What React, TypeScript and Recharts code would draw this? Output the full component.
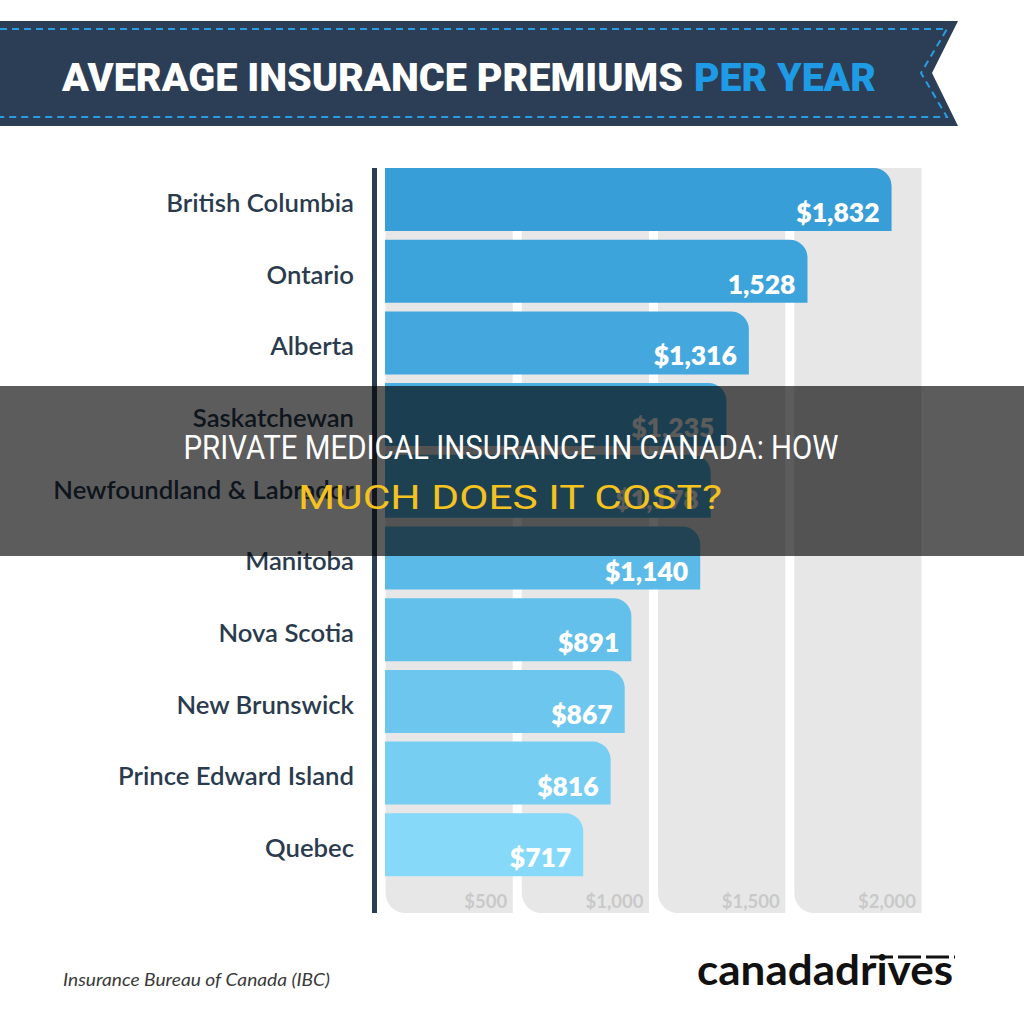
import React from 'react';
import { BarChart, Bar, XAxis, YAxis, Cell, LabelList, ReferenceArea } from 'recharts';

const provinces = [
  'British Columbia',
  'Ontario',
  'Alberta',
  'Saskatchewan',
  'Newfoundland & Labrador',
  'Manitoba',
  'Nova Scotia',
  'New Brunswick',
  'Prince Edward Island',
  'Quebec',
];
const premiums = [1832, 1528, 1316, 1235, 1178, 1140, 891, 867, 816, 717];
const premiumLabels = ['$1,832', '1,528', '$1,316', '$1,235', '$1,178', '$1,140', '$891', '$867', '$816', '$717'];
const gridTicks = [500, 1000, 1500, 2000];

// top bar is the deepest blue, fading to light cyan at the bottom
const barColors = [
  '#379ed8', '#3da3db', '#44a8de', '#4baee1', '#53b4e4',
  '#5bbae7', '#63c0ea', '#6cc6ee', '#77cef3', '#86d9f8',
];

const data = provinces.map((name, i) => ({ name, premium: premiums[i], label: premiumLabels[i] }));
const columns = gridTicks.map((t, i) => [i === 0 ? 0 : gridTicks[i - 1], t]);

const NAVY = '#2c3e55';
const LABEL = '#2b3b4e';

// grey background column, square on top, rounded bottom-left corner
const GridColumn = (props: any) => {
  const { x, y, width, height } = props;
  const l = x + 4.5;
  const r = x + width - 4.5;
  const b = y + height;
  const rad = 20;
  const d = `M${l},${y} H${r} V${b} H${l + rad} A${rad},${rad} 0 0 1 ${l},${b - rad} Z`;
  return <path d={d} fill="#e7e7e7" />;
};

const GridTick = ({ x, y, payload }: any) => (
  <text
    x={x - 10}
    y={y - 5}
    textAnchor="end"
    fill="#c9c9c9"
    fontSize={18.5}
    fontWeight={700}
    fontFamily="Lato, sans-serif"
  >
    {'$' + Number(payload.value).toLocaleString('en-US')}
  </text>
);

const ProvinceTick = ({ x, y, payload }: any) => (
  <text
    x={x}
    y={y}
    dy={12}
    textAnchor="end"
    fill={LABEL}
    fontSize={25.7}
    fontWeight={600}
    fontFamily="Lato, sans-serif"
  >
    {payload.value}
  </text>
);

const ValueLabel = (props: any) => {
  const { x, y, width, height, value } = props;
  return (
    <text
      x={Number(x) + Number(width) - 12}
      y={Number(y) + Number(height) - 9}
      textAnchor="end"
      fill="#ffffff"
      fontSize={26.5}
      fontWeight={800}
      fontFamily="Lato, sans-serif"
    >
      {value}
    </text>
  );
};

const Header = () => (
  <svg width={1024} height={140} style={{ position: 'absolute', left: 0, top: 0 }}>
    <polygon points="0,21 958,21 932,73 958,126 0,126" fill={NAVY} />
    <polyline
      points="0,29 947,29 921,73 947,117 0,117"
      fill="none"
      stroke="#2a9de0"
      strokeWidth={2}
      strokeDasharray="7 5"
    />
    <text
      x={62}
      y={91}
      fill="#ffffff"
      fontSize={38}
      fontWeight={900}
      fontFamily="Roboto, sans-serif"
      textLength={621}
      lengthAdjust="spacingAndGlyphs"
    >
      AVERAGE INSURANCE PREMIUMS
    </text>
    <text
      x={694}
      y={91}
      fill="#1e9be4"
      fontSize={38}
      fontWeight={900}
      fontFamily="Roboto, sans-serif"
      textLength={182}
      lengthAdjust="spacingAndGlyphs"
    >
      PER YEAR
    </text>
  </svg>
);

const Banner = () => (
  <div
    style={{
      position: 'absolute',
      left: 0,
      top: 386,
      width: 1024,
      height: 170,
      background: 'rgba(0,0,0,0.64)',
    }}
  >
    <svg width={1024} height={170}>
      <text
        x={511}
        y={73}
        textAnchor="middle"
        fill="#ffffff"
        fontSize={34}
        fontFamily="Roboto, sans-serif"
        textLength={655}
        lengthAdjust="spacingAndGlyphs"
      >
        PRIVATE MEDICAL INSURANCE IN CANADA: HOW
      </text>
      <text
        x={510}
        y={123}
        textAnchor="middle"
        fill="#f4c31f"
        fontSize={34}
        fontFamily="Roboto, sans-serif"
        textLength={424}
        lengthAdjust="spacingAndGlyphs"
      >
        MUCH DOES IT COST?
      </text>
    </svg>
  </div>
);

const Footer = () => (
  <svg width={1024} height={84} style={{ position: 'absolute', left: 0, top: 940 }}>
    <text
      x={63}
      y={46}
      fill="#3a3a3a"
      fontSize={18}
      fontStyle="italic"
      fontFamily="Lato, sans-serif"
      textLength={267}
      lengthAdjust="spacingAndGlyphs"
    >
      Insurance Bureau of Canada (IBC)
    </text>
    <text
      x={697}
      y={45}
      fill="#111111"
      fontSize={42}
      fontWeight={700}
      fontFamily="Lato, sans-serif"
      textLength={256}
      lengthAdjust="spacingAndGlyphs"
    >
      canadadrives
    </text>
    <line x1={870} y1={17} x2={955} y2={17} stroke="#111111" strokeWidth={3} strokeDasharray="23 5" />
  </svg>
);

export default function App() {
  return (
    <div style={{ position: 'absolute', left: 0, top: 0, width: 1024, height: 1024, background: '#ffffff' }}>
      <Header />
      <div style={{ position: 'absolute', left: 0, top: 0 }}>
        <BarChart
          width={1024}
          height={940}
          data={data}
          layout="vertical"
          margin={{ top: 164, right: 86, bottom: 26, left: 380 }}
          barSize={63}
        >
          <XAxis
            xAxisId="value"
            type="number"
            dataKey="premium"
            domain={[0, 2000]}
            allowDataOverflow
            padding={{ left: 4, right: 0 }}
            hide
          />
          <XAxis
            xAxisId="grid"
            type="number"
            domain={[0, 2000]}
            allowDataOverflow
            padding={{ left: 0, right: 12 }}
            ticks={gridTicks}
            interval={0}
            axisLine={false}
            tickLine={false}
            tickSize={0}
            tickMargin={0}
            height={1}
            tick={<GridTick />}
          />
          <YAxis
            yAxisId="cat"
            type="category"
            dataKey="name"
            width={1}
            axisLine={false}
            tickLine={false}
            tickSize={0}
            tickMargin={27}
            interval={0}
            padding={{ top: 0, bottom: 32 }}
            tick={<ProvinceTick />}
          />
          <YAxis
            yAxisId="grid"
            type="number"
            domain={[0, 1]}
            allowDataOverflow
            padding={{ top: 4, bottom: 0 }}
            hide
          />
          {columns.map(([a, b]) => (
            <ReferenceArea
              key={b}
              xAxisId="grid"
              yAxisId="grid"
              x1={a}
              x2={b}
              ifOverflow="visible"
              shape={GridColumn}
            />
          ))}
          <Bar
            xAxisId="value"
            yAxisId="cat"
            dataKey="premium"
            radius={[0, 18, 0, 0]}
            isAnimationActive={false}
          >
            {data.map((d, i) => (
              <Cell key={d.name} fill={barColors[i]} />
            ))}
            <LabelList dataKey="label" content={ValueLabel} />
          </Bar>
        </BarChart>
      </div>
      <div
        style={{ position: 'absolute', left: 372, top: 168, width: 5, height: 745, background: NAVY }}
      />
      <Banner />
      <Footer />
    </div>
  );
}
